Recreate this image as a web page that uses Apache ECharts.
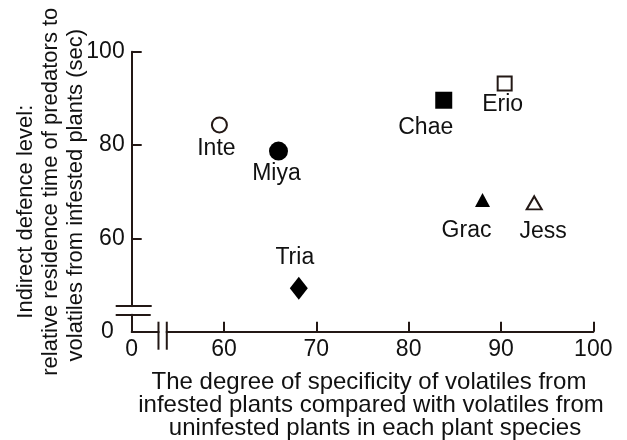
<!DOCTYPE html>
<html>
<head>
<meta charset="utf-8">
<script src="https://cdn.jsdelivr.net/npm/echarts@6/dist/echarts.min.js"></script>
<style>
html,body{margin:0;padding:0;background:#fff;}
#chart{width:627px;height:440px;}
</style>
</head>
<body>
<div id="chart"></div>
<script>
// ---- data ----
const species = ['Inte', 'Miya', 'Tria', 'Chae', 'Erio', 'Grac', 'Jess'];
const specificity = [59.5, 65.9, 68.1, 83.8, 90.4, 88.0, 93.6];   // x
const defenceLevel = [84.3, 78.7, 49.3, 89.6, 93.2, 68.2, 67.6];  // y
const xTickLabels = ['0', '60', '70', '80', '90', '100'];
const yTickLabels = ['0', '60', '80', '100'];
const xTitleLines = ['The degree of specificity of volatiles from', 'infested plants compared with volatiles from', 'uninfested plants in each plant species'];
const yTitleLines = ['Indirect defence level:', 'relative residence time of predators to', 'volatiles from infested plants (sec)'];
// broken axes: the axis start (after the break) is labelled "0"
const xAxisStart = 50, xAxisEnd = 100, xStep = 10;
const yAxisStart = 40, yAxisEnd = 100, yStep = 20;

// ---- styles ----
const INK = '#231815';
const TXT = '#111';
const FONT = "'Liberation Sans', Arial, sans-serif";
const markerStyle = {
  Inte: { symbol: 'circle', size: 15, open: true, offset: [-3, 24] },
  Miya: { symbol: 'circle', size: 19, open: false, offset: [-2, 23] },
  Tria: { symbol: 'diamond', size: [18, 23], open: false, offset: [-4, -31] },
  Chae: { symbol: 'rect', size: 17, open: false, offset: [-18, 27] },
  Erio: { symbol: 'rect', size: 14, open: true, offset: [-2, 21] },
  Grac: { symbol: 'triangle', size: [15, 14], open: false, offset: [-16, 31] },
  Jess: { symbol: 'triangle', size: [15, 13], open: true, offset: [9, 29] }
};

const seriesData = species.map((name, i) => {
  const s = markerStyle[name];
  return {
    name: name,
    value: [specificity[i], defenceLevel[i]],
    symbol: s.symbol,
    symbolSize: s.size,
    itemStyle: s.open
      ? { color: '#fff', borderColor: INK, borderWidth: 2, opacity: 1 }
      : { color: '#000', borderWidth: 0, opacity: 1 },
    label: {
      show: true, position: 'inside', offset: s.offset,
      formatter: name, color: TXT, fontSize: 23, fontFamily: FONT,
      textBorderWidth: 0, opacity: 1
    }
  };
});

// per-line shifts of the titles (rich-text padding)
const yTitleRich = {
  l1: { fontSize: 22, fontFamily: FONT, color: TXT, lineHeight: 25, padding: [0, 40, 0, 0] },
  l2: { fontSize: 22, fontFamily: FONT, color: TXT, lineHeight: 25, padding: [0, 0, 0, 0] },
  l3: { fontSize: 22, fontFamily: FONT, color: TXT, lineHeight: 25, padding: [0, 7, 0, 0] }
};
const xTitleRich = {
  m1: { fontSize: 24, fontFamily: FONT, color: TXT, lineHeight: 23, padding: [0, 0, 0, 13] },
  m2: { fontSize: 24, fontFamily: FONT, color: TXT, lineHeight: 23, padding: [0, 0, 0, 17] },
  m3: { fontSize: 24, fontFamily: FONT, color: TXT, lineHeight: 23, padding: [0, 0, 0, 25] }
};

const chart = echarts.init(document.getElementById('chart'), null, { renderer: 'canvas' });
const axisCommon = {
  type: 'value',
  splitLine: { show: false },
  nameMoveOverlap: false,
  axisLine: { show: true, lineStyle: { color: INK, width: 2 } },
  axisTick: { show: true, inside: true, length: 10, lineStyle: { color: INK, width: 2 } }
};
chart.setOption({
  animation: false,
  backgroundColor: '#fff',
  grid: { left: 131.7, right: 33.7, top: 51.7, bottom: 108.3, containLabel: false, outerBoundsMode: 'none' },
  xAxis: Object.assign({}, axisCommon, {
    min: xAxisStart, max: xAxisEnd, interval: xStep,
    axisLabel: {
      color: TXT, fontSize: 23, fontFamily: FONT, margin: 6,
      formatter: v => xTickLabels[Math.round((v - xAxisStart) / xStep)]
    },
    name: xTitleLines.map((t, i) => '{m' + (i + 1) + '|' + t + '}').join('\n'),
    nameLocation: 'middle', nameGap: 39,
    nameTextStyle: { color: TXT, fontSize: 24, fontFamily: FONT, lineHeight: 23, rich: xTitleRich }
  }),
  yAxis: Object.assign({}, axisCommon, {
    min: yAxisStart, max: yAxisEnd, interval: yStep,
    axisLabel: {
      color: TXT, fontSize: 23, fontFamily: FONT, margin: 7,
      formatter: v => {
        const t = yTickLabels[Math.round((v - yAxisStart) / yStep)];
        return v === yAxisStart ? '{z|' + t + '}' : t;
      },
      rich: { z: { fontSize: 23, fontFamily: FONT, color: TXT, padding: [0, 11, 0, 0] } }
    },
    name: yTitleLines.map((t, i) => '{l' + (i + 1) + '|' + t + '}').join('\n'),
    nameLocation: 'middle', nameGap: 43, nameRotate: 90,
    nameTextStyle: { color: TXT, fontSize: 22, fontFamily: FONT, lineHeight: 25, rich: yTitleRich }
  }),
  series: [{
    type: 'scatter',
    data: seriesData,
    z: 5
  }]
});

// ---- axis break marks (decorations at break values, placed via the chart's scales) ----
const yBreak = [45.5, 43.6];   // y values of the two break strokes on the y axis
const xBreak = [52.9, 53.8];   // x values of the two break strokes on the x axis
const p = (x, y) => chart.convertToPixel({ gridIndex: 0 }, [x, y]);
const origin = p(xAxisStart, yAxisStart);
const yb0 = p(xAxisStart, yBreak[0]), yb1 = p(xAxisStart, yBreak[1]);
const xb0 = p(xBreak[0], yAxisStart), xb1 = p(xBreak[1], yAxisStart);
const stroke = { stroke: INK, lineWidth: 2 };
chart.setOption({
  graphic: [
    { type: 'rect', z: 100, shape: { x: origin[0] - 4, y: yb0[1] + 1, width: 8, height: yb1[1] - yb0[1] - 2 }, style: { fill: '#fff' } },
    { type: 'rect', z: 100, shape: { x: xb0[0] + 1, y: origin[1] - 4, width: xb1[0] - xb0[0] - 2, height: 8 }, style: { fill: '#fff' } },
    { type: 'line', z: 101, shape: { x1: origin[0] - 16, y1: yb0[1], x2: origin[0] + 20, y2: yb0[1] }, style: stroke },
    { type: 'line', z: 101, shape: { x1: origin[0] - 16, y1: yb1[1], x2: origin[0] + 19, y2: yb1[1] }, style: stroke },
    { type: 'line', z: 101, shape: { x1: xb0[0], y1: origin[1] - 10, x2: xb0[0], y2: origin[1] + 18 }, style: stroke },
    { type: 'line', z: 101, shape: { x1: xb1[0], y1: origin[1] - 10, x2: xb1[0], y2: origin[1] + 18 }, style: stroke }
  ]
});
</script>
</body>
</html>
